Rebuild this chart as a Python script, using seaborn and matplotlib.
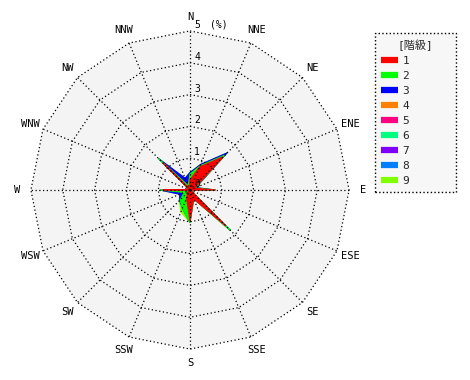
import numpy as np
import matplotlib
matplotlib.use("Agg")
import matplotlib.pyplot as plt
import seaborn as sns
from matplotlib.lines import Line2D

directions = ["N", "NNE", "NE", "ENE", "E", "ESE", "SE", "SSE",
              "S", "SSW", "SW", "WSW", "W", "WNW", "NW", "NNW"]
class_labels = ["1", "2", "3", "4", "5", "6", "7", "8", "9"]
class_colors = ["#ff0000", "#00ff00", "#0000ff", "#ff8000", "#ff0080",
                "#00ff80", "#8000ff", "#0080ff", "#80ff00"]

c1 = [0.32, 0.78, 1.48, 0.15, 0.80, 0.02, 1.60, 0.30, 0.98, 0.28, 0.10, 0.02, 0.85, 0.02, 1.20, 0.05]
c2 = [0.18, 0.04, 0.07, 0.02, 0.00, 0.00, 0.20, 0.00, 0.04, 0.34, 0.34, 0.18, 0.10, 0.00, 0.20, 0.10]
c3 = [0.05, 0.05, 0.10, 0.03, 0.00, 0.00, 0.00, 0.00, 0.00, 0.00, 0.02, 0.15, 0.00, 0.00, 0.00, 0.25]
c4 = [0.0] * 16
c5 = [0.0] * 16
c6 = [0.0] * 16
c7 = [0.0] * 16
c8 = [0.0] * 16
c9 = [0.00, 0.00, 0.00, 0.00, 0.00, 0.00, 0.00, 0.00, 0.00, 0.13, 0.02, 0.00, 0.00, 0.00, 0.00, 0.00]
ring_values = [1, 2, 3, 4, 5]

sns.set_theme(style="white")
plt.rcParams['font.family'] = ['DejaVu Sans Mono', 'Noto Sans CJK JP']

fig = plt.figure(figsize=(4.7, 3.8), dpi=100)
fig.patch.set_facecolor("white")
ax = fig.add_axes([15 / 470, 15 / 380, 350 / 470, 350 / 380])
R = 5.5
ax.set_xlim(-R, R)
ax.set_ylim(-R, R)
ax.set_aspect("equal")
ax.axis("off")

theta = np.deg2rad(np.arange(16) * 22.5)
sx, sy = np.sin(theta), np.cos(theta)

def closed(a):
    return np.append(a, a[0])

rmax = ring_values[-1]
ax.fill(closed(rmax * sx), closed(rmax * sy), color="#f4f4f4", zorder=0, lw=0)

classes = [c1, c2, c3, c4, c5, c6, c7, c8, c9]
cum = np.cumsum(np.array(classes), axis=0)
for k in range(8, -1, -1):
    if np.allclose(np.array(classes[k]), 0):
        continue
    r = cum[k]
    ax.fill(closed(r * sx), closed(r * sy), facecolor=class_colors[k],
            edgecolor=class_colors[k], lw=0.8, zorder=2)

for rv in ring_values:
    ax.plot(closed(rv * sx), closed(rv * sy), color="black", ls=(0, (1, 2)), lw=0.9, zorder=3)
for i in range(16):
    ax.plot([0, rmax * sx[i]], [0, rmax * sy[i]], color="black", ls=(0, (1, 2)), lw=0.9, zorder=3)

for i, d in enumerate(directions):
    ax.text(5.44 * sx[i], 5.44 * sy[i], d, ha="center", va="center", fontsize=7.5, color="black")

for rv in [0] + ring_values:
    ax.text(0.13, rv + 0.03, str(rv), ha="left", va="bottom", fontsize=7, color="black")
ax.text(0.62, 5.03, "(%)", ha="left", va="bottom", fontsize=7, color="black")

handles = [Line2D([0], [0], color=c, lw=4.5, solid_capstyle="butt") for c in class_colors]
leg = fig.legend(handles, class_labels, title="[階級]", loc="upper left",
                 bbox_to_anchor=(375 / 470, 1 - 196 / 380, 81 / 470, 163 / 380),
                 mode="expand", fontsize=8, title_fontsize=8, frameon=True,
                 fancybox=False, handlelength=1.5, handletextpad=0.4,
                 labelspacing=0.45, borderpad=0.55, borderaxespad=0)
frame = leg.get_frame()
frame.set_facecolor("#f7f7f7")
frame.set_edgecolor("black")
frame.set_linestyle(":")
frame.set_linewidth(1.0)
frame.set_alpha(1)

fig.savefig("out.png", dpi=100, facecolor="white")
